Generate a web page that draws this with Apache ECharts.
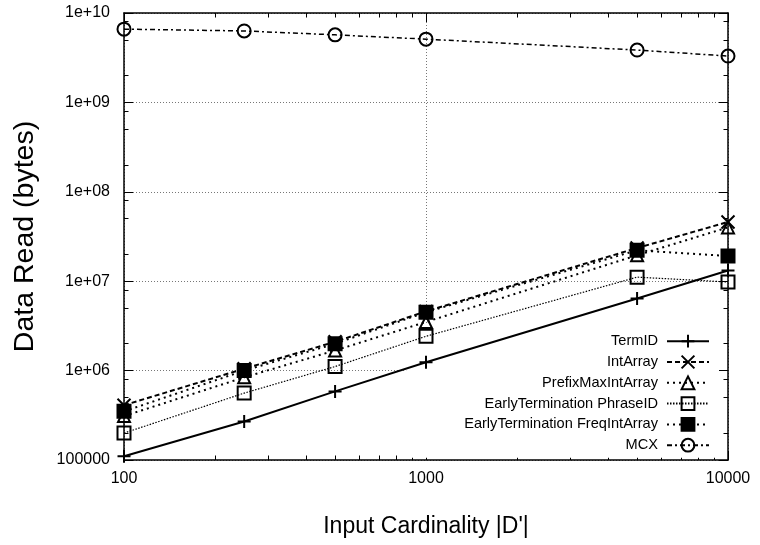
<!DOCTYPE html>
<html>
<head>
<meta charset="utf-8">
<script src="https://cdn.jsdelivr.net/npm/echarts@6/dist/echarts.min.js"></script>
<style>html,body{margin:0;padding:0;background:#fff}#c{width:760px;height:545px}</style>
</head>
<body>
<div id="c"></div>
<script>
// ---- data ----
const cardinalities = [100, 250, 500, 1000, 5000, 10000];
const termID        = [1.1e5, 2.7e5, 5.85e5, 1.24e6, 6.4e6, 1.32e7];
const intArray      = [4.1e5, 1.05e6, 2.1e6, 4.6e6, 2.35e7, 4.6e7];
const prefixMax     = [3.1e5, 8.4e5, 1.68e6, 3.5e6, 1.95e7, 4.0e7];
const phraseID      = [2.0e5, 5.6e5, 1.11e6, 2.42e6, 1.11e7, 9.8e6];
const freqIntArray  = [3.5e5, 1.0e6, 2.0e6, 4.5e6, 2.22e7, 1.91e7];
const mcx           = [6.6e9, 6.3e9, 5.7e9, 5.1e9, 3.85e9, 3.3e9];
const seriesNames = ['TermID', 'IntArray', 'PrefixMaxIntArray', 'EarlyTermination PhraseID', 'EarlyTermination FreqIntArray', 'MCX'];
// minor tick positions
const xMinorTicks = [200,300,400,500,600,700,800,900,2000,3000,4000,5000,6000,7000,8000,9000];
const yMinorMult = [2, 5, 8];
const yDecades = [5, 6, 7, 8, 9];

const FONT = '"Liberation Sans", Arial, Helvetica, sans-serif';
const yMinorTicks = [];
yDecades.forEach(d => yMinorMult.forEach(m => yMinorTicks.push(Math.log10(m) + d)));
const xMinorLog = xMinorTicks.map(v => Math.log10(v));

const pair = vals => cardinalities.map((x, i) => [x, vals[i]]);
const PLUS = 'path://M0,5L10,5M5,0L5,10';
const CROSS = 'path://M0,0L10,10M0,10L10,0';

function mk(name, vals, symbol, fill, lineType, lineWidth, size) {
  return {
    type: 'line', name: name, data: pair(vals),
    xAxisIndex: 0, yAxisIndex: 0,
    symbol: symbol, symbolSize: size || 13, showSymbol: true,
    lineStyle: {color: '#000', width: lineWidth, type: lineType},
    itemStyle: {color: fill, borderColor: '#000', borderWidth: 2},
    emphasis: {disabled: true}, silent: true, z: 3
  };
}

const gridRect = {left: 124, right: 32, top: 13, bottom: 85};
const borderLine = {show: true, lineStyle: {color: '#000', width: 1.5}};
const gridLine = {show: true, lineStyle: {color: '#777', width: 1, type: [1, 2]}};

const yFmt = v => v >= 1e6 ? '1e+' + String(Math.round(Math.log10(v))).padStart(2, '0') : String(Math.round(v));
const xFmt = v => String(Math.round(v));

const option = {
  animation: false,
  backgroundColor: '#fff',
  textStyle: {fontFamily: FONT},
  grid: [Object.assign({}, gridRect), Object.assign({}, gridRect)],
  xAxis: [
    {gridIndex: 0, type: 'log', logBase: 10, min: 100, max: 10000, position: 'bottom',
     name: "Input Cardinality |D'|", nameLocation: 'middle', nameGap: 55,
     nameTextStyle: {fontSize: 23, color: '#000', fontFamily: FONT},
     axisLine: borderLine, axisTick: {show: true, inside: true, length: 9, lineStyle: {color: '#000', width: 1}},
     axisLabel: {fontSize: 16, color: '#000', margin: 11, fontFamily: FONT, formatter: xFmt},
     splitLine: gridLine, minorTick: {show: false}},
    {gridIndex: 0, type: 'log', logBase: 10, min: 100, max: 10000, position: 'top',
     axisLine: borderLine, axisTick: {show: true, inside: true, length: 9, lineStyle: {color: '#000', width: 1}},
     axisLabel: {show: false}, splitLine: {show: false}},
    {gridIndex: 1, type: 'value', min: 2, max: 4, position: 'bottom',
     axisLine: {show: false}, axisLabel: {show: false}, splitLine: {show: false},
     axisTick: {show: true, inside: true, length: 4.5, customValues: xMinorLog, lineStyle: {color: '#000', width: 1}}},
    {gridIndex: 1, type: 'value', min: 2, max: 4, position: 'top',
     axisLine: {show: false}, axisLabel: {show: false}, splitLine: {show: false},
     axisTick: {show: true, inside: true, length: 4.5, customValues: xMinorLog, lineStyle: {color: '#000', width: 1}}}
  ],
  yAxis: [
    {gridIndex: 0, type: 'log', logBase: 10, min: 1e5, max: 1e10, position: 'left',
     name: 'Data Read (bytes)', nameLocation: 'middle', nameGap: 84,
     nameTextStyle: {fontSize: 28.5, color: '#000', fontFamily: FONT},
     axisLine: borderLine, axisTick: {show: true, inside: true, length: 9, lineStyle: {color: '#000', width: 1}},
     axisLabel: {fontSize: 16, color: '#000', margin: 14, formatter: yFmt, fontFamily: FONT},
     splitLine: gridLine},
    {gridIndex: 0, type: 'log', logBase: 10, min: 1e5, max: 1e10, position: 'right',
     axisLine: borderLine, axisTick: {show: true, inside: true, length: 9, lineStyle: {color: '#000', width: 1}},
     axisLabel: {show: false}, splitLine: {show: false}},
    {gridIndex: 1, type: 'value', min: 5, max: 10, position: 'left',
     axisLine: {show: false}, axisLabel: {show: false}, splitLine: {show: false},
     axisTick: {show: true, inside: true, length: 4.5, customValues: yMinorTicks, lineStyle: {color: '#000', width: 1}}},
    {gridIndex: 1, type: 'value', min: 5, max: 10, position: 'right',
     axisLine: {show: false}, axisLabel: {show: false}, splitLine: {show: false},
     axisTick: {show: true, inside: true, length: 4.5, customValues: yMinorTicks, lineStyle: {color: '#000', width: 1}}}
  ],
  legend: {
    data: seriesNames,
    orient: 'vertical', align: 'right',
    right: 41, top: 325,
    padding: [8.7, 9, 5, 58],
    backgroundColor: '#fff', z: 1,
    itemWidth: 42, itemHeight: 16, itemGap: 5.8,
    selectedMode: false,
    textStyle: {fontSize: 14.6, color: '#000', fontFamily: FONT, padding: [0, 4, 0, 0]}
  },
  series: [
    mk(seriesNames[0], termID, PLUS, 'rgba(0,0,0,0)', 'solid', 2),
    mk(seriesNames[1], intArray, CROSS, 'rgba(0,0,0,0)', [5, 3], 2),
    mk(seriesNames[2], prefixMax, 'triangle', 'rgba(0,0,0,0)', [2, 4], 2, 12),
    mk(seriesNames[3], phraseID, 'rect', 'rgba(0,0,0,0)', [1.5, 1.5], 1.2),
    mk(seriesNames[4], freqIntArray, 'rect', '#000', [2, 4], 2),
    mk(seriesNames[5], mcx, 'circle', 'rgba(0,0,0,0)', [5, 3, 2, 3], 1.5)
  ]
};

const chart = echarts.init(document.getElementById('c'), null, {renderer: 'canvas'});
chart.setOption(option);
</script>
</body>
</html>
